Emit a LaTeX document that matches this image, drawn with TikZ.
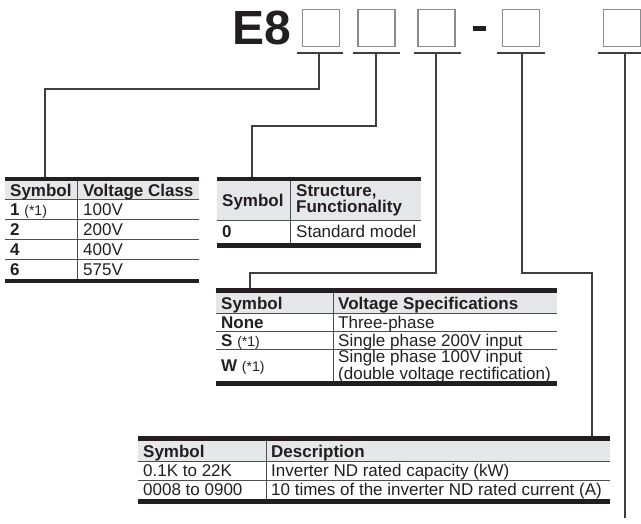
\documentclass[tikz,border=0pt]{standalone}
\usepackage{fontspec}
\setmainfont{Liberation Sans}
\definecolor{ink}{HTML}{231F20}
\definecolor{head}{HTML}{E6E7E8}
\definecolor{rowc}{HTML}{4D4D4F}
\definecolor{connc}{HTML}{3F3F41}
\definecolor{slotc}{HTML}{8A8C8E}
\tikzset{
  bar/.style={line width=4.5pt, draw=ink},
  rowline/.style={line width=0.8pt, draw=rowc},
  divl/.style={line width=1pt, draw=rowc},
  conn/.style={line width=1.2pt, draw=connc},
  slot/.style={draw=slotc, line width=1.4pt, minimum size=37pt, inner sep=0pt},
  uline/.style={line width=1.2pt, draw=connc},
  cell/.style={anchor=base west, inner sep=0pt, text=ink, font=\fontsize{17}{14}\selectfont},
  hcell/.style={cell, font=\fontsize{17}{14}\selectfont\bfseries},
  mcell/.style={anchor=west, inner sep=0pt, text=ink, align=left, font=\fontsize{17}{13}\selectfont},
}
\newcommand{\note}{{\fontsize{14}{14}\selectfont (*1)}}
\begin{document}
\begin{tikzpicture}[x=1pt,y=-1pt]
\useasboundingbox (0,0) rectangle (641,523);
% title
\node[anchor=base east, inner sep=0pt, text=ink, font=\fontsize{48}{48}\selectfont\bfseries] (e8) at (291,44) {E8};
\node[slot] (b1) at (321,28) {};
\node[slot] (b2) at (376.5,28) {};
\node[slot] (b3) at (436.5,28) {};
\node[slot] (b4) at (521,28) {};
\node[slot] (b5) at (622,28) {};
\fill[ink] (473,26) rectangle (486,31);
% underlines
\draw[uline] (297,53) -- (343,53);
\draw[uline] (353,53) -- (400,53);
\draw[uline] (414,53) -- (461,53);
\draw[uline] (497,53) -- (545,53);
\draw[uline] (598,53) -- (641,53);
\coordinate (u1) at (319,53);
\coordinate (u2) at (376,53);
\coordinate (u3) at (436,53);
\coordinate (u4) at (522,53);
\coordinate (u5) at (625,53);
\coordinate (t1) at (45,177);
\coordinate (t2) at (252,177);
\coordinate (t3) at (250,288);
\coordinate (t4) at (592,436);
\coordinate (t5) at (625,518);
\draw[conn] (u1) -- ++(0,36) -| (t1);
\draw[conn] (u2) -- ++(0,73) -| (t2);
\draw[conn] (u3) -- ++(0,220) -| (t3);
\draw[conn] (u4) -- ++(0,220) -| (t4);
\draw[conn] (u5) -- (t5);
% ---------- table 1
\fill[head] (5,181) rectangle (199,199);
\draw[rowline] (5,199) -- (199,199) (5,219) -- (199,219) (5,239) -- (199,239) (5,259) -- (199,259);
\draw[divl] (77,181) -- (77,279);
\draw[bar] (5,179) -- (199,179);
\draw[bar] (5,281) -- (199,281);
\node[hcell] (a0s) at (10,196) {Symbol};
\node[hcell] (a0v) at (83,196) {Voltage Class};
\node[cell] (a1s) at (10,215) {\textbf{1} \note};
\node[cell] (a1v) at (83,215) {100V};
\node[cell] (a2s) at (10,235) {\textbf{2}};
\node[cell] (a2v) at (83,235) {200V};
\node[cell] (a3s) at (10,255) {\textbf{4}};
\node[cell] (a3v) at (83,255) {400V};
\node[cell] (a4s) at (10,275) {\textbf{6}};
\node[cell] (a4v) at (83,275) {575V};
% ---------- table 2
\fill[head] (217,181) rectangle (421,220);
\draw[rowline] (217,220) -- (421,220);
\draw[divl] (290,181) -- (290,243);
\draw[bar] (217,179) -- (421,179);
\draw[bar] (217,245.5) -- (421,245.5);
\node[hcell] (b0s) at (222,206) {Symbol};
\node[mcell, font=\fontsize{17}{13.5}\selectfont\bfseries] (b0v) at (296,200.5) {Structure,\\Functionality};
\node[cell] (b1s) at (222,237.5) {\textbf{0}};
\node[cell] (b1v) at (296,237.5) {Standard model};
% ---------- table 3
\fill[head] (216,293) rectangle (557,313);
\draw[rowline] (216,313) -- (557,313) (216,331) -- (557,331) (216,349) -- (557,349);
\draw[divl] (333,293) -- (333,381);
\draw[bar] (216,290.5) -- (557,290.5);
\draw[bar] (216,383.5) -- (557,383.5);
\node[hcell] (c0s) at (221,309) {Symbol};
\node[hcell] (c0v) at (338,309) {Voltage Specifications};
\node[cell] (c1s) at (221,328) {\textbf{None}};
\node[cell] (c1v) at (338,328) {Three-phase};
\node[cell] (c2s) at (221,346) {\textbf{S} \note};
\node[cell] (c2v) at (338,346) {Single phase 200V input};
\node[cell] (c3s) at (221,371) {\textbf{W} \note};
\node[mcell] (c3v) at (338,366.5) {Single phase 100V input\\(double voltage rectification)};
% ---------- table 4
\fill[head] (138,441) rectangle (610,461);
\draw[rowline] (138,461) -- (610,461) (138,480) -- (610,480);
\draw[divl] (266,441) -- (266,499);
\draw[bar] (138,438.5) -- (610,438.5);
\draw[bar] (138,501.5) -- (610,501.5);
\node[hcell] (d0s) at (143,457) {Symbol};
\node[hcell] (d0v) at (271,457) {Description};
\node[cell] (d1s) at (143,476) {0.1K to 22K};
\node[cell] (d1v) at (271,476) {Inverter ND rated capacity (kW)};
\node[cell] (d2s) at (143,495) {0008 to 0900};
\node[cell] (d2v) at (271,495) {10 times of the inverter ND rated current (A)};
\end{tikzpicture}
\end{document}
